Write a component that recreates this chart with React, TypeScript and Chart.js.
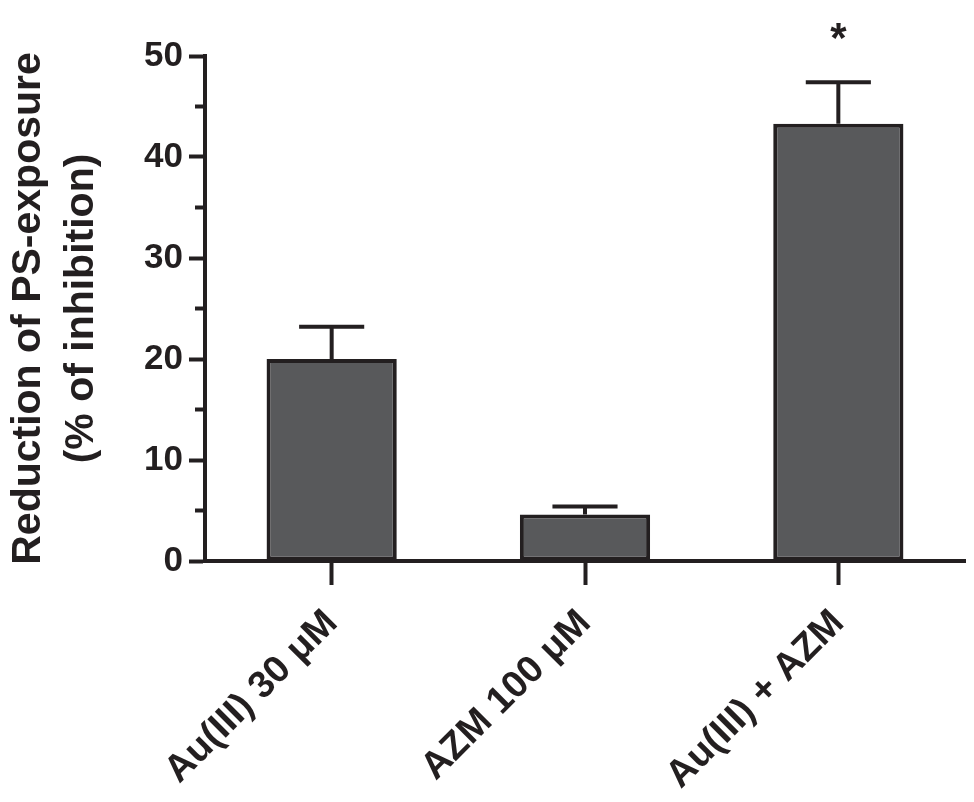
import { useEffect, useRef } from 'react'
import { Chart, registerables } from 'chart.js'

Chart.register(...registerables)

const groups = ['Au(III) 30 \u03bcM', 'AZM 100 \u03bcM', 'Au(III) + AZM']
const means = [20.0, 4.6, 43.3]
const sem = [3.2, 0.8, 4.1]
const marks = ['', '', '*']
const yTicks = [0, 10, 20, 30, 40, 50]
const yMinor = [5, 15, 25, 35, 45]

const INK = '#231f20'
const FILL = '#58595b'
const FONT = "'Liberation Sans', Arial, Helvetica, sans-serif"

const errorBars = {
    id: 'errorBars',
    afterDatasetsDraw(chart: any) {
        const { ctx, scales } = chart
        const y = scales.y
        const meta = chart.getDatasetMeta(0)
        ctx.save()
        ctx.strokeStyle = INK
        ctx.lineWidth = 4
        ctx.lineCap = 'butt'
        meta.data.forEach((bar: any, i: number) => {
            const top = y.getPixelForValue(means[i] + sem[i])
            const base = y.getPixelForValue(means[i])
            const half = bar.width / 4
            ctx.beginPath()
            ctx.moveTo(bar.x, base)
            ctx.lineTo(bar.x, top)
            ctx.moveTo(bar.x - half, top)
            ctx.lineTo(bar.x + half, top)
            ctx.stroke()
            if (marks[i]) {
                ctx.fillStyle = INK
                ctx.font = `bold 42px ${FONT}`
                ctx.textAlign = 'center'
                ctx.textBaseline = 'middle'
                ctx.fillText(marks[i], bar.x, top - 42)
            }
        })
        // minor ticks on the y axis
        const left = chart.chartArea.left
        yMinor.forEach((v) => {
            const py = y.getPixelForValue(v)
            ctx.beginPath()
            ctx.moveTo(left - 10, py)
            ctx.lineTo(left, py)
            ctx.stroke()
        })
        ctx.restore()
    }
}

const App = () => {
    const chartRef = useRef<HTMLCanvasElement>(null)

    useEffect(() => {
        if (!chartRef.current) return
        const myChart = new Chart(chartRef.current, {
            type: 'bar',
            data: {
                labels: groups,
                datasets: [
                    {
                        data: means,
                        backgroundColor: FILL,
                        borderColor: INK,
                        borderWidth: 4,
                        borderSkipped: false,
                        barPercentage: 0.514,
                        categoryPercentage: 1
                    }
                ]
            },
            options: {
                animation: false,
                responsive: true,
                maintainAspectRatio: false,
                layout: { padding: { left: 0, top: 56, right: 9, bottom: 0 } },
                plugins: {
                    legend: { display: false },
                    tooltip: { enabled: false }
                },
                scales: {
                    x: {
                        offset: true,
                        afterFit: (scale: any) => { scale.height = 241 },
                        border: { color: INK, width: 4 },
                        grid: {
                            offset: false,
                            drawOnChartArea: false,
                            tickLength: 24,
                            tickWidth: 4,
                            tickColor: INK
                        },
                        ticks: {
                            color: INK,
                            autoSkip: false,
                            minRotation: 45,
                            maxRotation: 45,
                            padding: 16,
                            font: { family: FONT, size: 38, weight: 'bold' }
                        }
                    },
                    y: {
                        min: 0,
                        max: 50,
                        afterFit: (scale: any) => { scale.width = 205 },
                        afterBuildTicks: (scale: any) => {
                            scale.ticks = yTicks.map((v) => ({ value: v }))
                        },
                        border: { color: INK, width: 4 },
                        grid: {
                            drawOnChartArea: false,
                            tickLength: 16,
                            tickWidth: 4,
                            tickColor: INK
                        },
                        ticks: {
                            color: INK,
                            padding: 6,
                            font: { family: FONT, size: 35, weight: 'bold' }
                        },
                        title: {
                            display: true,
                            text: ['Reduction of PS-exposure', '(% of inhibition)'],
                            color: INK,
                            padding: { top: 2, bottom: 0 },
                            font: { family: FONT, size: 41, weight: 'bold', lineHeight: 1.3 }
                        }
                    }
                }
            },
            plugins: [errorBars]
        })

        return () => {
            myChart.destroy()
        }
    }, [])

    return (
        <div style={{ position: 'absolute', left: 0, top: 0, width: 974, height: 802, background: '#fff' }}>
            <canvas ref={chartRef} />
        </div>
    )
}

export default App
